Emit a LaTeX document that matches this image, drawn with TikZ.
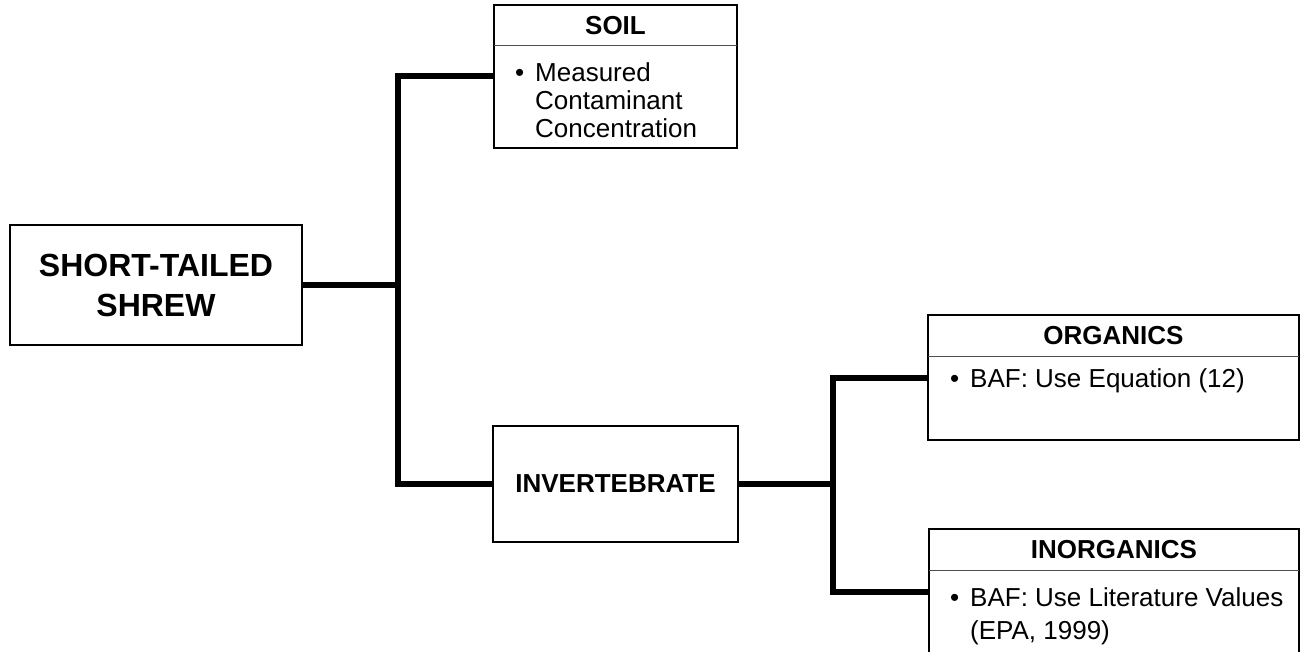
\documentclass[tikz,border=0pt]{standalone}
\usepackage{fontspec}
\setmainfont{Liberation Sans}
\usetikzlibrary{positioning,calc}

\tikzset{
	box/.style={draw, line width=2pt, inner sep=0pt, outer sep=0pt},
	headtext/.style={font=\bfseries\fontsize{26}{30}\selectfont, inner sep=0pt},
	bodytext/.style={anchor=north west, inner sep=0pt},
	divider/.style={line width=1pt, black!70},
	link/.style={line width=6pt, line join=miter},
}
% bullet item: #1 = width of text, #2 = baselineskip, #3 = text
\newcommand{\bul}[3]{\fontsize{26}{#2}\selectfont\makebox[20pt][l]{\textbullet}%
	\parbox[t]{#1}{\raggedright\fontsize{26}{#2}\selectfont #3}}

\begin{document}
\begin{tikzpicture}[x=1pt,y=-1pt]
	%%%%% START %%%%%
	\useasboundingbox (0,0) rectangle (1300,652);
	
	% main boxes
	\node[box, minimum width=292, minimum height=120, align=center,
		font=\bfseries\fontsize{32}{40}\selectfont] (shrew) at (156,285) {SHORT-TAILED\\SHREW};
	\node[box, minimum width=245, minimum height=116,
		font=\bfseries\fontsize{26}{30}\selectfont] (invert) at (615.5,484) {INVERTEBRATE};
	
	% soil
	\node[box, minimum width=243, minimum height=143] (soil) at (615.5,76.5) {};
	\draw[divider] ($(soil.north west)+(0,41)$) -- ($(soil.north east)+(0,41)$);
	\node[headtext] (soilhead) at ($(soil.north)+(0,21)$) {SOIL};
	\node[bodytext] (soilbody) at ($(soil.north west)+(21,57)$)
		{\bul{190pt}{28}{Measured Contaminant Concentration}};
	
	% organics
	\node[box, minimum width=371, minimum height=125] (organ) at (1113.5,377.5) {};
	\draw[divider] ($(organ.north west)+(0,41)$) -- ($(organ.north east)+(0,41)$);
	\node[headtext] (organhead) at ($(organ.north)+(0,21)$) {ORGANICS};
	\node[bodytext] (organbody) at ($(organ.north west)+(22,53)$)
		{\bul{325pt}{30}{BAF: Use Equation (12)}};
	
	% inorganics
	\node[box, minimum width=370, minimum height=126] (inorgan) at (1114,592) {};
	\draw[divider] ($(inorgan.north west)+(0,41)$) -- ($(inorgan.north east)+(0,41)$);
	\node[headtext] (inorganhead) at ($(inorgan.north)+(0,21)$) {INORGANICS};
	\node[bodytext] (inorganbody) at ($(inorgan.north west)+(21,58)$)
		{\bul{325pt}{33}{BAF: Use Literature Values (EPA, 1999)}};
	
	% connectors
	\coordinate (j1) at ($(shrew.east)+(96,0)$);
	\coordinate (j2) at ($(invert.east)+(95,0)$);
	\draw[link] (shrew.east) -- (j1);
	\draw[link] (soil.west) -| (j1) |- (invert.west);
	\draw[link] (invert.east) -- (j2);
	\draw[link] (organ.west) -| (j2) |- (inorgan.west);
	
	%%%%% END %%%%%
\end{tikzpicture}
\end{document}
